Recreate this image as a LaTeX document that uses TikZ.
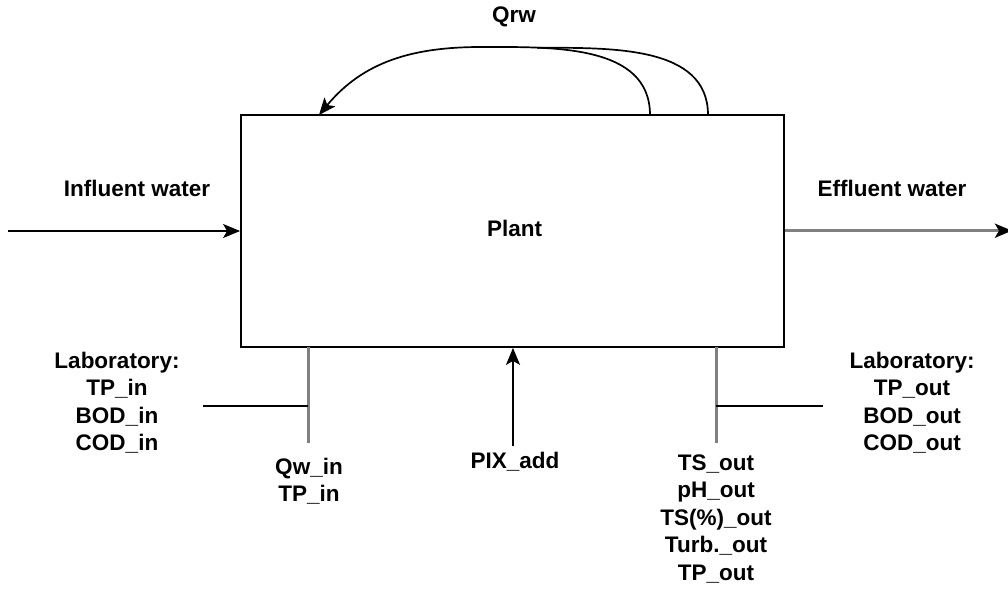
\documentclass[tikz,border=0pt]{standalone}
\usepackage{fontspec}
\setmainfont{Liberation Sans}
\usetikzlibrary{arrows.meta}
\definecolor{tapgray}{rgb}{0.5, 0.5, 0.5}

\begin{document}
\begin{tikzpicture}[x=1pt,y=-1pt,
  lbl/.style={font=\fontsize{22.5}{27.5}\selectfont\bfseries, align=center, inner sep=0pt},
  flow/.style={line width=1.7pt, -{Stealth[length=17pt,width=14pt,inset=4pt]}},
  tap/.style={line width=3pt, tapgray},
  probe/.style={line width=1.7pt}]

    \useasboundingbox (0,0) rectangle (1008,589);

    \node[draw, line width=1.8pt, minimum width=543pt, minimum height=232pt, inner sep=0pt] (plant) at (512.5,231) {};
    \node[lbl] (plantlbl) at (514.5,228) {Plant};

    % recycle on top
    \coordinate (rwa) at (650,115);
    \coordinate (rwb) at (708,115);
    \coordinate (rwtop) at (481,47);
    \coordinate (rwin) at (319,115);
    \node[lbl] (qrw) at (514,17) {Qrw};
    \draw[flow] (rwa) .. controls (650,44) and (552,47) .. (rwtop) .. controls (412,47) and (363,62) .. (rwin);
    \draw[probe] (rwb) .. controls (708,45) and (610,48) .. (537,47.7);

    % influent and effluent
    \coordinate (infl) at (8,231);
    \coordinate (effl) at (1012,230.7);
    \node[lbl] (influent) at (137,188.5) {Influent water};
    \node[lbl] (effluent) at (892,188.5) {Effluent water};
    \draw[flow] (infl) -- (plant.west);
    \draw[tap, -{Stealth[length=17pt,width=14pt,inset=4pt,black]}] (plant.east |- effl) -- (effl);

    % inlet sampling
    \coordinate (tapin) at (308,347);
    \coordinate (tapinend) at (308,443);
    \coordinate (labinend) at (203,406);
    \node[lbl, anchor=north] (labin) at (117,351.5) {Laboratory:\\TP\_in\\BOD\_in\\COD\_in};
    \node[lbl, anchor=north] (qwin) at (309,457.5) {Qw\_in\\TP\_in};
    \draw[tap] (tapin) -- (tapinend);
    \draw[probe] (labinend) -- (labinend -| tapin);

    % chemical dosing
    \node[lbl, anchor=north] (pix) at (515,451.5) {PIX\_add};
    \draw[flow] ([xshift=-2pt,yshift=6pt]pix.north) -- ([xshift=-2pt]pix.north |- plant.south);

    % outlet sampling
    \coordinate (tapout) at (716,347);
    \coordinate (tapoutend) at (716,443);
    \coordinate (laboutend) at (823,406);
    \node[lbl, anchor=north] (labout) at (912,351.5) {Laboratory:\\TP\_out\\BOD\_out\\COD\_out};
    \node[lbl, anchor=north] (tsout) at (716,454.5) {TS\_out\\pH\_out\\TS(\%)\_out\\Turb.\_out\\TP\_out};
    \draw[tap] (tapout) -- (tapoutend);
    \draw[probe] (laboutend -| tapout) -- (laboutend);

\end{tikzpicture}
\end{document}
